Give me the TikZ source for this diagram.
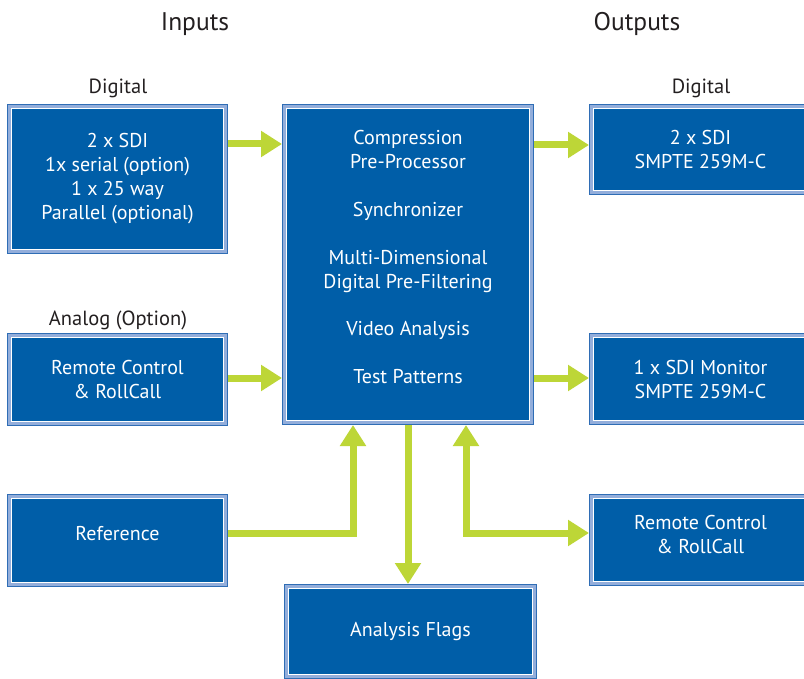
\documentclass[tikz,border=0pt]{standalone}
\usepackage{fontspec}
\setmainfont{PT Sans}
\usetikzlibrary{arrows.meta}
\definecolor{boxblue}{HTML}{005EA8}
\definecolor{bandblue}{HTML}{93AEDB}
\definecolor{edgeblue}{HTML}{2F6DB5}
\definecolor{arrgreen}{HTML}{BDD637}
\definecolor{labelgray}{HTML}{231F20}
\tikzset{
  bluebox/.style={
    preaction={draw=edgeblue, line width=9pt},
    preaction={draw=bandblue, line width=7pt},
    fill=boxblue, draw=white, line width=1pt,
    text=white, align=center, inner sep=0pt, outer sep=4.5pt,
    font=\fontsize{20}{24}\selectfont},
  boxtext/.style={text=white, align=center, inner sep=0pt,
    font=\fontsize{20}{24}\selectfont},
  heading/.style={text=labelgray, font=\fontsize{25.5}{28}\selectfont, inner sep=0pt},
  sublabel/.style={text=labelgray, font=\fontsize{20.5}{24}\selectfont, inner sep=0pt},
  flow/.style={draw=arrgreen, line width=7pt, line join=miter,
    -{Triangle[length=21pt,width=25pt]}},
  flowboth/.style={draw=arrgreen, line width=7pt, line join=miter,
    {Triangle[length=21pt,width=25pt]}-{Triangle[length=21pt,width=25pt]}}
}
\begin{document}
\begin{tikzpicture}[x=1pt,y=-1pt]
\useasboundingbox[fill=white] (0,0) rectangle (804,679);
% headings
\node[heading] (hin) at (195,24) {Inputs};
\node[heading] (hout) at (637,24) {Outputs};
\node[sublabel] (ldig) at (118,88) {Digital};
\node[sublabel] (lana) at (118,320) {Analog (Option)};
\node[sublabel] (ldigo) at (701,88) {Digital};
% boxes
\node[bluebox, minimum width=212pt, minimum height=141pt] (inD) at (117.5,179)
  {2 x SDI\\1x serial (option)\\1 x 25 way\\Parallel (optional)};
\node[bluebox, minimum width=243pt, minimum height=312pt] (central) at (408,264.5) {};
\node[boxtext] (ctext) at (408,257)
  {Compression\\Pre-Processor\\[24pt]Synchronizer\\[24pt]Multi-Dimensional\\Digital Pre-Filtering\\[24pt]Video Analysis\\[24pt]Test Patterns};
\node[bluebox, minimum width=214pt, minimum height=82pt] (outD) at (700.5,149.5)
  {2 x SDI\\SMPTE 259M-C};
\node[bluebox, minimum width=212pt, minimum height=84pt] (inA) at (117.5,379.5)
  {Remote Control\\\& RollCall};
\node[bluebox, minimum width=214pt, minimum height=83pt] (outM) at (700.5,379)
  {1 x SDI Monitor\\SMPTE 259M-C};
\node[bluebox, minimum width=212pt, minimum height=84pt] (ref) at (117.5,540.5) {};
\node[boxtext] (reftext) at (117.5,534) {Reference};
\node[bluebox, minimum width=214pt, minimum height=83pt] (outR) at (700.5,540) {};
\node[boxtext] (outRtext) at (700.5,534) {Remote Control\\\& RollCall};
\node[bluebox, minimum width=244pt, minimum height=86pt] (flags) at (410.5,631.5)
  {Analysis Flags};
% connectors
\draw[flow] (inD.east |- 0,144) -- (central.west |- 0,144);
\draw[flow] (inA.east |- 0,378) -- (central.west |- 0,378);
\draw[flow] (central.east |- 0,145) -- (outD.west |- 0,145);
\draw[flow] (central.east |- 0,378) -- (outM.west |- 0,378);
\draw[flow] (ref.east |- 0,533) -| (central.south -| 353,0);
\draw[flow] (central.south -| 408,0) -- (flags.north -| 408,0);
\draw[flowboth] (central.south -| 466,0) |- (outR.west |- 0,533);
\end{tikzpicture}
\end{document}
